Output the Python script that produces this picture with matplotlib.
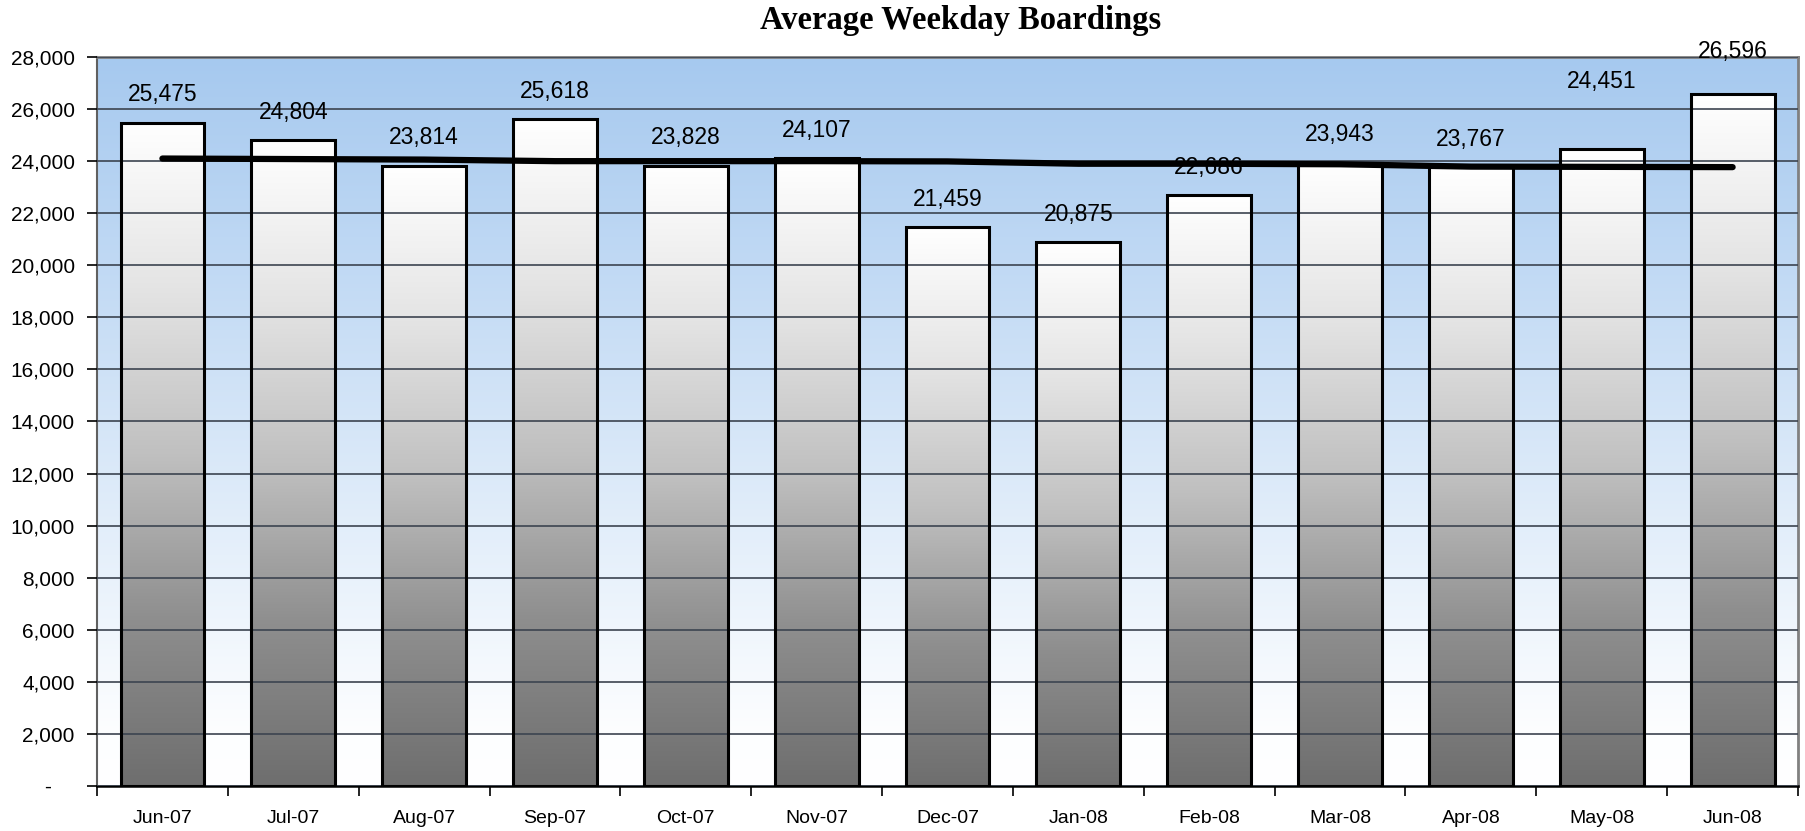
import matplotlib.pyplot as plt
import numpy as np
from matplotlib.colors import LinearSegmentedColormap

# data
months = ["Jun-07", "Jul-07", "Aug-07", "Sep-07", "Oct-07", "Nov-07", "Dec-07",
          "Jan-08", "Feb-08", "Mar-08", "Apr-08", "May-08", "Jun-08"]
boardings = [25475, 24804, 23814, 25618, 23828, 24107, 21459,
             20875, 22686, 23943, 23767, 24451, 26596]
trend = [24100, 24080, 24060, 24000, 24000, 24000, 23990,
         23900, 23900, 23880, 23790, 23780, 23770]

plt.rcParams['font.family'] = ['Liberation Sans', 'DejaVu Sans']

fig = plt.figure(figsize=(18.06, 8.31), dpi=100)
ax = fig.add_axes([0.0537, 0.0542, 0.9419, 0.8772])

x = np.arange(len(months))
ax.set_xlim(-0.5, len(months) - 0.5)
ax.set_ylim(0, 28000)

# blue -> white background
bg = LinearSegmentedColormap.from_list("bg", [(0, "#ffffff"), (0.07, "#fdfeff"), (1, "#a6c9ef")])
grad = np.linspace(0, 1, 256).reshape(-1, 1)
ax.imshow(grad, cmap=bg, aspect='auto', origin='lower',
          extent=(-0.5, len(months) - 0.5, 0, 28000), zorder=0)

ax.set_yticks(np.arange(0, 28001, 2000))
ax.yaxis.grid(True, color='#3c4450', linewidth=1.2, zorder=1)
ax.set_axisbelow(False)

# bars with white->grey gradient
barcm = LinearSegmentedColormap.from_list("bar", [(0, "#6e6e6e"), (0.25, "#8e8e8e"), (0.5, "#c0c0c0"),
                                                  (0.75, "#e4e4e4"), (1, "#ffffff")])
w = 0.64
bars = ax.bar(x, boardings, width=w, facecolor='none', edgecolor='black',
              linewidth=2.2, zorder=3)
for b in bars:
    x0, h = b.get_x(), b.get_height()
    ax.imshow(grad, cmap=barcm, aspect='auto', origin='lower',
              extent=(x0, x0 + w, 0, h), zorder=2)

ax.plot(x, trend, color='black', linewidth=4.5, solid_capstyle='round', zorder=4)

# data labels (two were moved by hand in the original)
nudge = {11: 40, 12: 14}
for i, v in enumerate(boardings):
    ax.annotate(f"{v:,}", (x[i], v), xytext=(0, 28 + nudge.get(i, 0)),
                textcoords='offset pixels',
                ha='center', va='center', fontsize=16.5, zorder=5,
                annotation_clip=False)

ax.set_xticks(x)
ax.set_xticklabels(months, fontsize=14)
ax.set_xticks(np.arange(-0.5, len(months)), minor=True)
ax.tick_params(axis='x', which='major', length=0, pad=17)
ax.tick_params(axis='x', which='minor', length=7, width=1.2, color='black')
ax.set_yticklabels(["-    " if t == 0 else f"{t:,}" for t in range(0, 28001, 2000)], fontsize=15)
ax.tick_params(axis='y', length=7, width=1.2, color='black', pad=9)

for s in ['top', 'right']:
    ax.spines[s].set_color('#808080')
    ax.spines[s].set_linewidth(2)
ax.spines['left'].set_color('#606060')
ax.spines['left'].set_linewidth(1.5)
ax.spines['bottom'].set_color('black')
ax.spines['bottom'].set_linewidth(1.8)

fig.text(0.532, 0.975, "Average Weekday Boardings", family='Liberation Serif',
         fontweight='bold', fontsize=23.5, ha='center', va='center')

fig.savefig("out.png", dpi=100)
